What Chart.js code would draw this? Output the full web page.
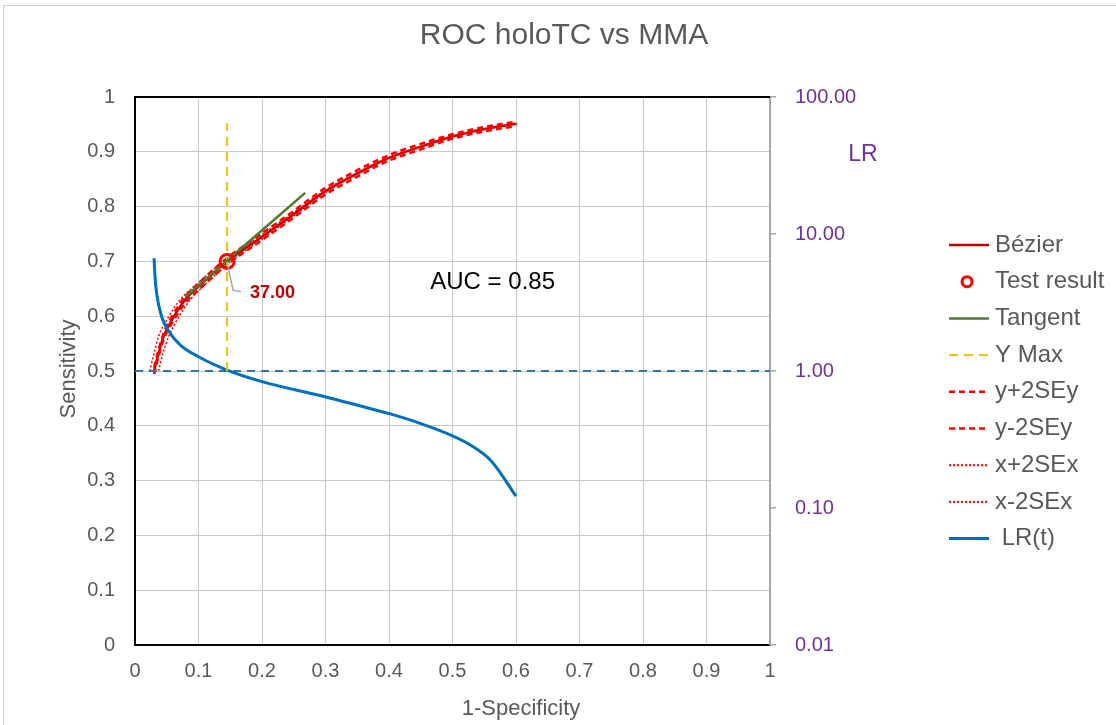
<!DOCTYPE html>
<html>
<head>
<meta charset="utf-8">
<script src="https://cdn.jsdelivr.net/npm/chart.js@4.4.1/dist/chart.umd.min.js"></script>
<style>
  html, body { margin: 0; padding: 0; background: #fff; }
</style>
</head>
<body>
<canvas id="roc" width="1116" height="725"></canvas>
<script>
// values
const rocX      = [0.030, 0.037, 0.045, 0.058, 0.079, 0.100, 0.145, 0.200, 0.245, 0.300, 0.346, 0.398, 0.449, 0.500, 0.549, 0.600];
const rocY      = [0.500, 0.532, 0.563, 0.593, 0.630, 0.654, 0.700, 0.745, 0.782, 0.828, 0.858, 0.888, 0.909, 0.928, 0.941, 0.951];
const rocYPlus  = [0.506, 0.538, 0.569, 0.599, 0.636, 0.660, 0.706, 0.751, 0.788, 0.834, 0.864, 0.893, 0.914, 0.932, 0.945, 0.955];
const rocYMinus = [0.494, 0.526, 0.557, 0.587, 0.624, 0.648, 0.694, 0.739, 0.776, 0.822, 0.852, 0.883, 0.904, 0.924, 0.937, 0.947];
const rocXPlus  = [0.037, 0.044, 0.053, 0.066, 0.087, 0.107, 0.151, 0.205, 0.249, 0.303, 0.349, 0.400, 0.451, 0.502, 0.551, 0.602];
const rocXMinus = [0.023, 0.030, 0.037, 0.050, 0.071, 0.093, 0.139, 0.195, 0.241, 0.297, 0.343, 0.396, 0.447, 0.498, 0.547, 0.598];

const tangentX = [0.079, 0.268];
const tangentY = [0.635, 0.825];

const yMaxX = [0.145, 0.145];
const yMaxY = [0.500, 0.952];

const testX = [0.145];
const testY = [0.700];
const testLabel = '37.00';

const lrX = [0.030, 0.0315, 0.034, 0.042, 0.052, 0.071, 0.100, 0.144, 0.200, 0.299, 0.349, 0.402, 0.449, 0.501, 0.530, 0.562, 0.600];
const lrY = [6.65, 4.88, 3.69, 2.49, 1.99, 1.55, 1.27, 1.02, 0.836, 0.649, 0.565, 0.486, 0.415, 0.335, 0.285, 0.218, 0.122];

const lrOneX = [0, 1];
const lrOneY = [1, 1];

const xTicks  = [0, 0.1, 0.2, 0.3, 0.4, 0.5, 0.6, 0.7, 0.8, 0.9, 1];
const yTicks  = [0, 0.1, 0.2, 0.3, 0.4, 0.5, 0.6, 0.7, 0.8, 0.9, 1];
const lrTicks = [0.01, 0.1, 1, 10, 100];

const aucText = 'AUC = 0.85';
const aucPos = [0.465, 0.662];

const FONT = '"Liberation Sans", Arial, sans-serif';
const GREY = '#595959';
const PURPLE = '#7030A0';

const pts = (xs, ys) => xs.map((x, i) => ({ x: x, y: ys[i] }));

const datasets = [
  { label: 'Bézier', data: pts(rocX, rocY), borderColor: '#C00000', borderWidth: 2.5, order: 6 },
  { label: 'Test result', data: pts(testX, testY), showLine: false, pointRadius: 7, pointBorderWidth: 3,
    pointBorderColor: '#FF0000', pointBackgroundColor: 'rgba(0,0,0,0)', borderColor: '#FF0000', order: 0 },
  { label: 'Tangent', data: pts(tangentX, tangentY), borderColor: '#4E7B2F', borderWidth: 2.5, order: 1 },
  { label: 'Y Max', data: pts(yMaxX, yMaxY), borderColor: '#FFC000', borderWidth: 2, borderDash: [9, 6], order: 2 },
  { label: 'y+2SEy', data: pts(rocX, rocYPlus), borderColor: '#FF0000', borderWidth: 2.5, borderDash: [6, 4], order: 5 },
  { label: 'y-2SEy', data: pts(rocX, rocYMinus), borderColor: '#FF0000', borderWidth: 2.5, borderDash: [6, 4], order: 5 },
  { label: 'x+2SEx', data: pts(rocXPlus, rocY), borderColor: '#FF0000', borderWidth: 1.5, borderDash: [2, 2], order: 5 },
  { label: 'x-2SEx', data: pts(rocXMinus, rocY), borderColor: '#FF0000', borderWidth: 1.5, borderDash: [2, 2], order: 5 },
  { label: ' LR(t)', data: pts(lrX, lrY), yAxisID: 'y2', borderColor: '#0070C0', borderWidth: 3, order: 3 },
  { label: '', data: pts(lrOneX, lrOneY), yAxisID: 'y2', borderColor: '#2E75B6', borderWidth: 2, borderDash: [8, 6], order: 4 }
];
datasets.forEach(d => {
  if (d.showLine === undefined) { d.showLine = true; d.pointRadius = 0; }
  d.cubicInterpolationMode = 'monotone';
  d.fill = false;
});

// texts, borders and legend drawn on top
const extras = {
  id: 'extras',
  beforeDraw(chart) {
    const ctx = chart.ctx;
    ctx.save();
    ctx.fillStyle = '#fff';
    ctx.fillRect(0, 0, chart.width, chart.height);
    ctx.strokeStyle = '#D0D0D0';
    ctx.lineWidth = 1;
    ctx.beginPath();
    ctx.moveTo(3.5, chart.height + 2);
    ctx.lineTo(3.5, 5.5);
    ctx.lineTo(chart.width + 2, 5.5);
    ctx.stroke();
    ctx.restore();
  },
  afterDraw(chart) {
    const ctx = chart.ctx;
    const a = chart.chartArea;
    const sx = chart.scales.x, sy = chart.scales.y;
    ctx.save();

    // top border of the plot area
    ctx.strokeStyle = '#000';
    ctx.lineWidth = 2;
    ctx.beginPath();
    ctx.moveTo(a.left - 1, a.top);
    ctx.lineTo(a.right, a.top);
    ctx.stroke();

    ctx.textBaseline = 'middle';
    ctx.fillStyle = GREY;
    ctx.textAlign = 'center';
    ctx.font = '30px ' + FONT;
    ctx.fillText('ROC holoTC vs MMA', 564, 36);

    ctx.font = '22px ' + FONT;
    ctx.fillText('1-Specificity', 521, 709);
    ctx.save();
    ctx.translate(69, 369);
    ctx.rotate(-Math.PI / 2);
    ctx.fillText('Sensitivity', 0, 0);
    ctx.restore();

    ctx.fillStyle = PURPLE;
    ctx.font = '23px ' + FONT;
    ctx.fillText('LR', 863, 155);

    ctx.fillStyle = '#000';
    ctx.textAlign = 'left';
    ctx.font = '24px ' + FONT;
    ctx.fillText(aucText, sx.getPixelForValue(aucPos[0]), sy.getPixelForValue(aucPos[1]));

    // data label of the test result with its leader line
    const px = sx.getPixelForValue(testX[0]), py = sy.getPixelForValue(testY[0]);
    ctx.strokeStyle = '#A6A6A6';
    ctx.lineWidth = 1.5;
    ctx.beginPath();
    ctx.moveTo(px, py + 1);
    ctx.lineTo(px + 6, py + 29);
    ctx.lineTo(px + 14, py + 30);
    ctx.stroke();
    ctx.fillStyle = '#C00000';
    ctx.font = 'bold 18px ' + FONT;
    ctx.fillText(testLabel, px + 23, py + 32);

    // legend
    const lx0 = 949, lx1 = 989, tx = 995;
    let ly = 245;
    chart.data.datasets.forEach(d => {
      if (!d.label) return;
      if (d.showLine) {
        ctx.strokeStyle = d.borderColor;
        ctx.lineWidth = Math.max(d.borderWidth, 2);
        ctx.setLineDash(d.borderDash || []);
        ctx.beginPath();
        ctx.moveTo(lx0, ly);
        ctx.lineTo(lx1, ly);
        ctx.stroke();
        ctx.setLineDash([]);
      } else {
        ctx.strokeStyle = d.pointBorderColor;
        ctx.lineWidth = 3;
        ctx.beginPath();
        ctx.arc(967, ly, 5, 0, Math.PI * 2);
        ctx.stroke();
      }
      ctx.fillStyle = GREY;
      ctx.font = '24px ' + FONT;
      ctx.fillText(d.label, tx, ly);
      ly += 36.7;
    });
    ctx.restore();
  }
};

const tickFont = { family: FONT, size: 20 };

new Chart(document.getElementById('roc'), {
  type: 'scatter',
  data: { datasets: datasets },
  options: {
    responsive: false,
    animation: false,
    layout: { padding: { top: 97, left: 0, right: 0, bottom: 0 } },
    plugins: { legend: { display: false }, tooltip: { enabled: false }, title: { display: false } },
    scales: {
      x: {
        type: 'linear', min: 0, max: 1,
        afterBuildTicks: s => { s.ticks = xTicks.map(v => ({ value: v })); },
        afterFit: s => { s.height = 80; },
        ticks: { font: tickFont, color: GREY, padding: 14, maxRotation: 0, callback: v => String(+v.toFixed(1)) },
        grid: { color: '#C8C8C8', lineWidth: 1, drawTicks: false },
        border: { color: '#000', width: 2 }
      },
      y: {
        type: 'linear', min: 0, max: 1, position: 'left',
        afterBuildTicks: s => { s.ticks = yTicks.map(v => ({ value: v })); },
        afterFit: s => { s.width = 135; },
        ticks: { font: tickFont, color: GREY, padding: 20, callback: v => String(+v.toFixed(1)) },
        grid: { color: '#C8C8C8', lineWidth: 1, drawTicks: false },
        border: { color: '#000', width: 2 }
      },
      y2: {
        type: 'logarithmic', min: 0.01, max: 100, position: 'right',
        afterBuildTicks: s => { s.ticks = lrTicks.map(v => ({ value: v })); },
        afterFit: s => { s.width = 346; },
        ticks: { font: tickFont, color: PURPLE, padding: 19, callback: v => Number(v).toFixed(2) },
        grid: { drawOnChartArea: false, drawTicks: true, tickLength: 6, tickColor: '#A6A6A6', lineWidth: 1.5 },
        border: { color: '#A6A6A6', width: 2 }
      }
    }
  },
  plugins: [extras]
});
</script>
</body>
</html>
